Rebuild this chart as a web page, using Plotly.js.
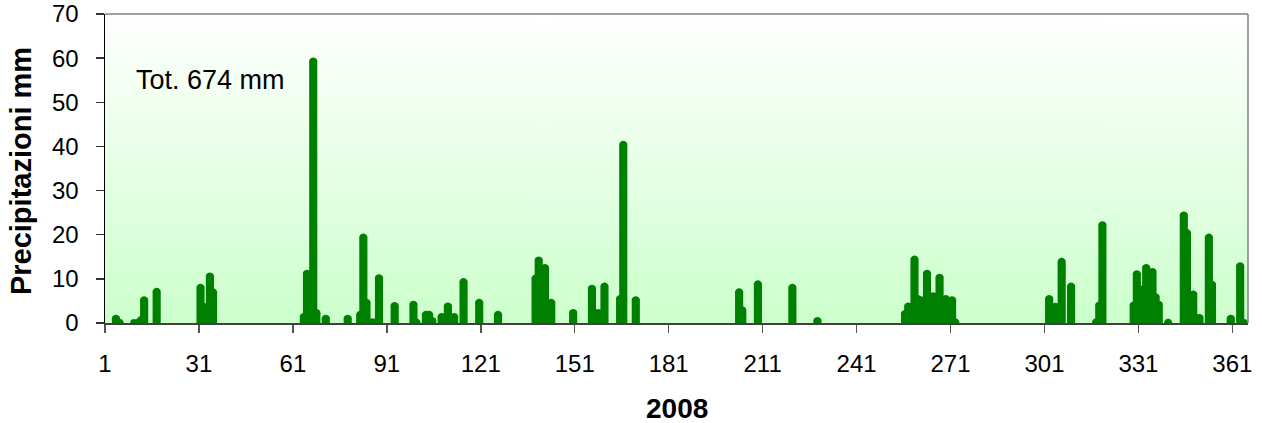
<!DOCTYPE html>
<html><head><meta charset="utf-8">
<script src="https://cdn.plot.ly/plotly-3.0.1.min.js"></script>
<style>body{margin:0;padding:0;background:#fff}#chart{width:1262px;height:423px}</style>
</head><body><div id="chart"></div>
<script>
// ---- data (day of year 2008, daily precipitation in mm) ----
const rainDays = [4,5,10,12,13,17,
  31,32,34,35,
  64,65,66,67,68,71,78,82,83,84,85,86,88,
  93,99,100,103,104,105,108,110,112,115,120,126,
  138,139,140,141,143,150,156,158,160,165,166,170,
  203,204,209,220,228,
  256,257,259,260,261,262,263,265,267,269,271,272,
  302,304,306,309,317,318,319,
  329,330,331,332,333,335,336,337,340,
  345,346,347,348,349,350,353,354,360,363,364];
const rainMm = [1.3,0.3,0.3,1.0,5.5,7.4,
  8.3,4.0,10.9,7.3,
  1.7,11.5,10.0,59.6,2.6,1.3,1.3,2.2,19.7,4.9,0.4,0.5,10.5,
  4.2,4.5,0.4,2.2,2.2,0.8,1.7,4.1,1.7,9.6,4.9,2.2,
  10.4,14.5,11.0,12.8,4.9,2.6,8.1,2.6,8.6,5.8,40.7,5.5,
  7.3,3.2,9.1,8.3,0.8,
  2.4,4.1,14.7,5.8,5.5,4.0,11.5,6.4,10.6,5.8,5.5,0.5,
  5.8,4.0,14.2,8.6,0.5,4.3,22.5,
  4.3,11.4,5.0,8.0,12.8,11.9,6.2,4.5,0.4,
  24.7,20.7,6.5,6.8,1.5,1.5,19.7,9.0,1.3,13.2,0.3];
const dayCount = 365;
const tickDays = [1,31,61,91,121,151,181,211,241,271,301,331,361];
const tickLabels = tickDays.map(String);
const totalLabel = 'Tot. 674 mm';
const yTitle = 'Precipitazioni mm';
const xTitle = '2008';

// ---- background gradient (white to light green) ----
const cv = document.createElement('canvas'); cv.width = 4; cv.height = 256;
const cx = cv.getContext('2d');
const grd = cx.createLinearGradient(0,0,0,256);
grd.addColorStop(0,'#ffffff'); grd.addColorStop(1,'#ccffcc');
cx.fillStyle = grd; cx.fillRect(0,0,4,256);
const bgImg = cv.toDataURL();

const font = 'Liberation Sans, Arial, sans-serif';

const trace = {
  type:'bar', x: rainDays, y: rainMm, width: 1,
  marker:{color:'#008000', cornerradius:2, line:{color:'#008000', width:5}},
  hoverinfo:'x+y'
};

const layout = {
  width:1262, height:423,
  margin:{l:105, r:14, t:14, b:100},
  paper_bgcolor:'#ffffff', plot_bgcolor:'rgba(0,0,0,0)',
  showlegend:false, bargap:0,
  font:{family:font, color:'#000', size:24},
  xaxis:{
    range:[0.5, dayCount+0.5], tickmode:'array',
    tickvals: tickDays.map(d=>d-0.5), ticktext: tickLabels,
    ticks:'outside', ticklen:8, tickwidth:1.5, tickcolor:'#555',
    ticklabelstandoff:10,
    showline:true, linecolor:'#404040', linewidth:2,
    showgrid:false, zeroline:false,
    tickfont:{family:font, size:24, color:'#000'}
  },
  yaxis:{
    range:[0,70], tickmode:'linear', tick0:0, dtick:10,
    ticks:'outside', ticklen:8, tickwidth:1.5, tickcolor:'#333',
    ticklabelstandoff:12,
    showline:true, linecolor:'#000', linewidth:1.5,
    showgrid:false, zeroline:false,
    tickfont:{family:font, size:24, color:'#000'}
  },
  images:[{source:bgImg, xref:'paper', yref:'paper', x:0, y:1, sizex:1, sizey:1,
    sizing:'stretch', xanchor:'left', yanchor:'top', layer:'below'}],
  shapes:[
    {type:'line', xref:'paper', yref:'paper', x0:0, x1:1, y0:1, y1:1, line:{color:'#808080', width:1.5}, layer:'above'},
    {type:'line', xref:'paper', yref:'paper', x0:1, x1:1, y0:0, y1:1, line:{color:'#808080', width:1.5}, layer:'above'}
  ],
  annotations:[
    {text: totalLabel, xref:'paper', yref:'paper', x:0.0255, y:0.785, xanchor:'left', yanchor:'middle',
      showarrow:false, font:{family:font, size:27, color:'#000'}},
    {text: '<b>'+yTitle+'</b>', xref:'paper', yref:'paper', x:-0.074, y:0.493, xanchor:'center', yanchor:'middle',
      textangle:-90, showarrow:false, font:{family:font, size:29, color:'#000'}},
    {text: '<b>'+xTitle+'</b>', xref:'paper', yref:'paper', x:0.5, y:-0.278, xanchor:'center', yanchor:'middle',
      showarrow:false, font:{family:font, size:28, color:'#000'}}
  ]
};

Plotly.newPlot('chart', [trace], layout, {staticPlot:true, displayModeBar:false});
</script></body></html>
